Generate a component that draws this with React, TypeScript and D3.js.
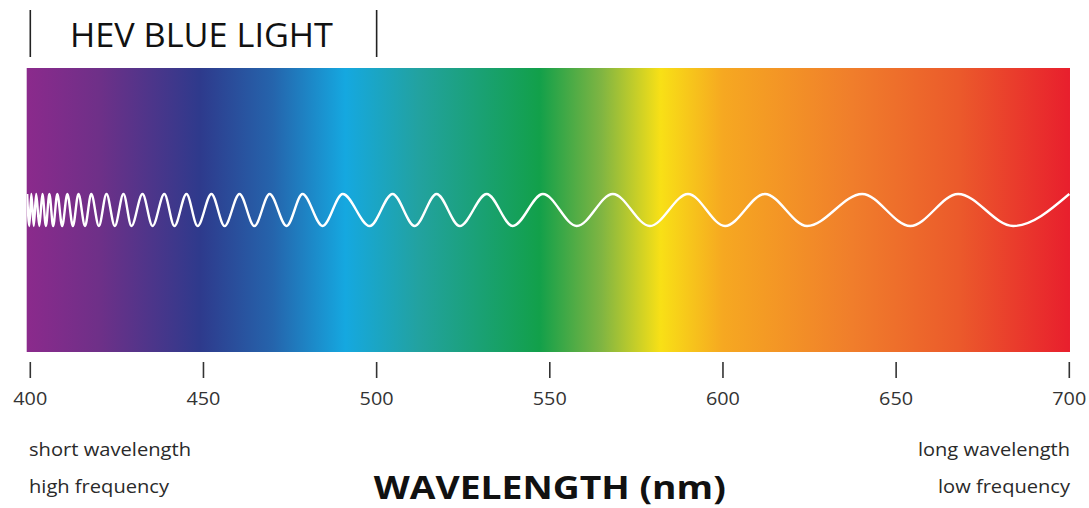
import React from 'react';
import * as d3 from 'd3';

// wavelength ticks (nm)
const tickValues = [400, 450, 500, 550, 600, 650, 700];
// spectrum extent (nm) and the HEV blue light bracket
const spectrumRange = [398.96, 700.2];
const hevRange = [400, 500];

// gradient colour stops
const stopNm = [399, 420, 449, 470, 491, 512, 547, 565, 582, 600, 637, 668, 700];
const stopColor = ['#8B2A8C', '#6E3088', '#2E3A8C', '#2564AC', '#15A8E0', '#22A2A0', '#12A04A', '#80B542', '#F8E016', '#F6A821', '#F07E2B', '#EB5A2B', '#E81F2D'];

// crest and trough positions of the white wave (nm)
const crestNm = [399.1, 400.3, 401.7, 403.5, 405.5, 407.8, 410.7, 413.9, 417.6, 422.0, 426.9, 432.4, 438.7, 445.1, 452.3, 460.4, 469.1, 478.6, 490.2, 504.6, 517.3, 531.8, 548.0, 568.2, 589.9, 612.1, 640.2, 667.9, 700.0];
const troughNm = [399.7, 401.0, 402.6, 404.5, 406.6, 409.2, 412.3, 415.8, 419.8, 424.4, 429.2, 435.3, 441.6, 448.3, 456.1, 464.7, 474.0, 484.4, 498.0, 511.0, 524.0, 539.3, 557.8, 578.9, 600.6, 624.3, 654.1, 683.8];

const W = 1089;
const H = 508;
const FONT = "'Open Sans', 'DejaVu Sans', sans-serif";

export default function App() {
  const x = d3.scaleLinear().domain([400, 700]).range([30.3, 1069.3]);
  const top = 68, bottom = 352;
  const amp = d3.scaleLinear().domain([-1, 1]).range([226, 194]);

  const wavePts = [
    ...crestNm.map(v => ({ nm: v, a: 1 })),
    ...troughNm.map(v => ({ nm: v, a: -1 })),
  ].sort((p, q) => p.nm - q.nm);

  const wavePath = d3.line<{ nm: number; a: number }>()
    .x(d => x(d.nm))
    .y(d => amp(d.a))
    .curve(d3.curveMonotoneX)(wavePts) || '';

  const x0 = x(spectrumRange[0]);
  const x1 = x(spectrumRange[1]);
  const span = spectrumRange[1] - spectrumRange[0];

  const label = { fontFamily: FONT, fontSize: 18.5, fill: '#2a2a2a', lengthAdjust: 'spacingAndGlyphs' as const };

  return (
    <svg width={W} height={H} style={{ position: 'fixed', left: 0, top: 0, background: '#fff' }}>
      <defs>
        <linearGradient id="spec" gradientUnits="userSpaceOnUse" x1={x0} x2={x1} y1={0} y2={0}>
          {stopNm.map((s, i) => (
            <stop key={i} offset={(s - spectrumRange[0]) / span} stopColor={stopColor[i]} />
          ))}
        </linearGradient>
        <clipPath id="clip">
          <rect x={x0} y={top} width={x1 - x0} height={bottom - top} />
        </clipPath>
      </defs>

      {/* HEV bracket */}
      {hevRange.map(v => (
        <line key={v} x1={x(v)} x2={x(v)} y1={10} y2={57} stroke="#222" strokeWidth={1.6} />
      ))}
      <text x={70} y={47} fontFamily={FONT} fontSize={33} fill="#111"
        textLength={263} lengthAdjust="spacingAndGlyphs">HEV BLUE LIGHT</text>

      {/* spectrum */}
      <rect x={x0} y={top} width={x1 - x0} height={bottom - top} fill="url(#spec)" />
      <path d={wavePath} fill="none" stroke="#fff" strokeWidth={2.4} clipPath="url(#clip)" />

      {/* axis */}
      {tickValues.map(v => (
        <g key={v}>
          <line x1={x(v)} x2={x(v)} y1={362} y2={378} stroke="#333" strokeWidth={1.6} />
          <text x={x(v)} y={405} textAnchor="middle" fontFamily={FONT} fontSize={18} fill="#333"
            textLength={34} lengthAdjust="spacingAndGlyphs">{v}</text>
        </g>
      ))}

      <text x={29} y={456} {...label} textLength={162}>short wavelength</text>
      <text x={29} y={493} {...label} textLength={140}>high frequency</text>
      <text x={918} y={456} {...label} textLength={152}>long wavelength</text>
      <text x={938} y={493} {...label} textLength={132}>low frequency</text>

      <text x={x(550)} y={499} textAnchor="middle" fontFamily={FONT} fontSize={32} fontWeight="bold" fill="#111"
        textLength={352} lengthAdjust="spacingAndGlyphs">WAVELENGTH (nm)</text>
    </svg>
  );
}
